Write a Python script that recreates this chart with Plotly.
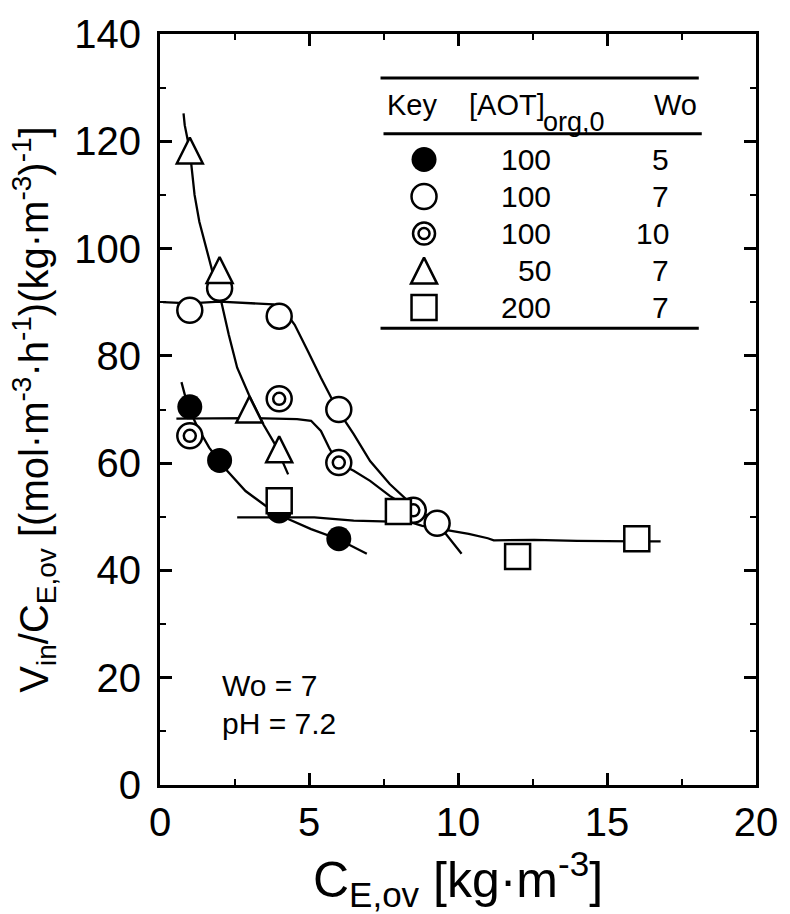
import plotly.graph_objects as go

# ---------------- data ----------------
# measured points
filled_x = [1, 2, 4, 6]
filled_y = [70.5, 60.5, 51.1, 45.9]
open_x = [1, 2, 4, 6, 9.3]
open_y = [88.5, 92.6, 87.4, 70.0, 48.8]
dbl_x = [1, 4, 6, 8.5]
dbl_y = [65.1, 72.0, 60.1, 51.2]
tri_x = [1, 2, 3, 4]
tri_y = [118.3, 96.0, 70.0, 62.6]
sq_x = [4, 8, 12, 16]
sq_y = [53.0, 51.0, 42.6, 45.9]

# hand-drawn trend curves
filled_fit_x = [0.72, 0.94, 1.27, 1.65, 2.2, 2.87, 3.53, 4.3, 5.07, 5.95, 6.94]
filled_fit_y = [75.1, 70.5, 66.6, 62.9, 58.9, 54.8, 52.1, 49.6, 47.7, 45.9, 43.1]
open_fit_x = [0.1, 1, 2, 3, 3.8, 4.19, 4.52, 4.96, 5.4, 5.95, 6.5, 7.05, 7.71, 8.49, 9.31, 10.12]
open_fit_y = [90.0, 89.8, 90.1, 89.8, 89.6, 88.3, 85.8, 80.9, 75.9, 70.0, 65.4, 60.4, 56.1, 52.1, 48.8, 43.1]
dbl_fit_x = [0.55, 2, 3, 4.6, 5.07, 5.4, 5.67, 5.95, 6.5, 7.05, 7.71, 8.15, 8.7]
dbl_fit_y = [68.3, 68.3, 68.4, 68.2, 67.9, 66.0, 62.9, 60.1, 58.6, 56.7, 53.9, 52.4, 50.5]
tri_fit_x = [0.79, 0.83, 1.0, 1.05, 1.16, 1.32, 1.54, 1.76, 2.04, 2.31, 2.59, 2.98, 3.47, 3.86, 4.3]
tri_fit_y = [125.2, 123.0, 118.3, 115.6, 110.0, 105.0, 100.1, 95.7, 90.5, 83.9, 77.8, 72.8, 67.2, 63.5, 57.9]
sq_fit_x = [2.59, 4.3, 5.18, 6.5, 7.6, 8.4, 8.8, 9.7, 10.36, 11.0, 11.2, 12.56, 14.0, 16.0, 16.8]
sq_fit_y = [49.9, 49.9, 49.9, 49.3, 49.1, 49.0, 48.3, 47.4, 46.8, 46.0, 45.6, 45.7, 45.5, 45.4, 45.4]

# key table
key_conc = ["100", "100", "100", "50", "200"]
key_wo = ["5", "7", "10", "7", "7"]

x_ticks = [0, 5, 10, 15, 20]
y_ticks = [0, 20, 40, 60, 80, 100, 120, 140]

# ---------------- layout constants ----------------
W, H = 790, 914
ML, MR, MT, MB = 160, 25, 32, 129
YMAX = 140
plot_h = H - MT - MB
FONT = "Liberation Sans, Arial, sans-serif"
LW = 2.5
MS = 25
TRI_S = 26
tri_shift = (TRI_S / 2) / (plot_h / YMAX)   # arrow-up tip sits at the point: shift axis so symbol is centred

fig = go.Figure()

line_style = dict(color="black", width=2.3)
for fx, fy in [(filled_fit_x, filled_fit_y), (open_fit_x, open_fit_y), (dbl_fit_x, dbl_fit_y),
               (sq_fit_x, sq_fit_y), (tri_fit_x, tri_fit_y)]:
    fig.add_trace(go.Scatter(x=fx, y=fy, mode="lines", line=line_style, showlegend=False, hoverinfo="skip"))

m_filled = dict(symbol="circle", size=MS, color="black", line=dict(width=0))
m_open = dict(symbol="circle", size=MS, color="white", line=dict(color="black", width=LW))
m_dbl_in = dict(symbol="circle-open", size=12, color="black", line=dict(color="black", width=LW))
m_tri = dict(symbol="arrow-up", size=TRI_S, color="white", line=dict(color="black", width=LW))
m_sq = dict(symbol="square", size=MS, color="white", line=dict(color="black", width=LW))

# key layout positions (data units)
key_sym_x = 8.86
row_top, row_step = 116.6, 6.9
rows_y = [row_top - i * row_step for i in range(len(key_conc))]


def pts(x, y, marker, yaxis="y"):
    fig.add_trace(go.Scatter(x=x, y=y, mode="markers", marker=marker, yaxis=yaxis,
                             showlegend=False, hoverinfo="skip"))


pts(filled_x, filled_y, m_filled)
pts(open_x, open_y, m_open)
pts(dbl_x, dbl_y, m_open)
pts(dbl_x, dbl_y, m_dbl_in)
pts(tri_x, tri_y, m_tri, "y2")
pts(sq_x, sq_y, m_sq)

# key symbols
pts([key_sym_x], [rows_y[0]], m_filled)
pts([key_sym_x], [rows_y[1]], m_open)
pts([key_sym_x], [rows_y[2]], dict(m_open, size=22))
pts([key_sym_x], [rows_y[2]], dict(m_dbl_in, size=11))
pts([key_sym_x], [rows_y[3]], m_tri, "y2")
pts([key_sym_x], [rows_y[4]], m_sq)

ann = []
tf = dict(family=FONT, size=30, color="black")
hf = dict(family=FONT, size=29, color="black")
for i, (c, w) in enumerate(zip(key_conc, key_wo)):
    ann.append(dict(x=13.2, y=rows_y[i], text=c, xanchor="right", yanchor="middle", showarrow=False, font=tf))
    ann.append(dict(x=17.15, y=rows_y[i], text=w, xanchor="right", yanchor="middle", showarrow=False, font=tf))
ann.append(dict(x=7.55, y=126.8, text="Key", xanchor="left", yanchor="middle", showarrow=False, font=hf))
ann.append(dict(x=10.3, y=126.8, text="[AOT]", xanchor="left", yanchor="middle", showarrow=False, font=hf))
ann.append(dict(x=12.78, y=123.6, text="org,0", xanchor="left", yanchor="middle", showarrow=False,
                font=dict(hf, size=27)))
ann.append(dict(x=18.1, y=126.8, text="Wo", xanchor="right", yanchor="middle", showarrow=False, font=hf))
ann.append(dict(x=2.02, y=18.6, text="Wo = 7", xanchor="left", yanchor="middle", showarrow=False, font=tf))
ann.append(dict(x=2.02, y=11.5, text="pH = 7.2", xanchor="left", yanchor="middle", showarrow=False, font=tf))
for a in ann:
    a.update(xref="x", yref="y")

shapes = []
for (x0, x1, yy) in [(7.40, 18.08, 131.8), (7.50, 18.18, 121.4), (7.40, 18.08, 85.15)]:
    shapes.append(dict(type="line", xref="x", yref="y", x0=x0, x1=x1, y0=yy, y1=yy,
                       line=dict(color="black", width=3)))

axis_common = dict(showgrid=False, zeroline=False, showline=True, linecolor="black", linewidth=3,
                   mirror="ticks", ticks="inside", ticklen=12, tickwidth=2.5, tickcolor="black",
                   tickfont=dict(family=FONT, size=40, color="black"))

fig.update_layout(
    width=W, height=H, margin=dict(l=ML, r=MR, t=MT, b=MB),
    paper_bgcolor="white", plot_bgcolor="white",
    font=dict(family=FONT, color="black"),
    xaxis=dict(range=[0, 20], tickvals=x_ticks,
               minor=dict(ticks="inside", ticklen=6, tickwidth=2, dtick=2.5, tick0=0, tickcolor="black"),
               title=dict(text="C<sub>E,ov</sub> [kg·m<sup>-3</sup>]", font=dict(family=FONT, size=50),
                          standoff=8),
               **axis_common),
    yaxis=dict(range=[0, YMAX], tickvals=y_ticks, ticklabelstandoff=8,
               minor=dict(ticks="inside", ticklen=6, tickwidth=2, dtick=10, tick0=0, tickcolor="black"),
               title=dict(text="V<sub>in</sub>/C<sub>E,ov</sub> [(mol·m<sup>-3</sup>·h<sup>-1</sup>)"
                               "(kg·m<sup>-3</sup>)<sup>-1</sup>]",
                          font=dict(family=FONT, size=40), standoff=14),
               **axis_common),
    yaxis2=dict(range=[-tri_shift, YMAX - tri_shift], overlaying="y", visible=False),
    annotations=ann, shapes=shapes,
)

fig.write_html("out.html")
